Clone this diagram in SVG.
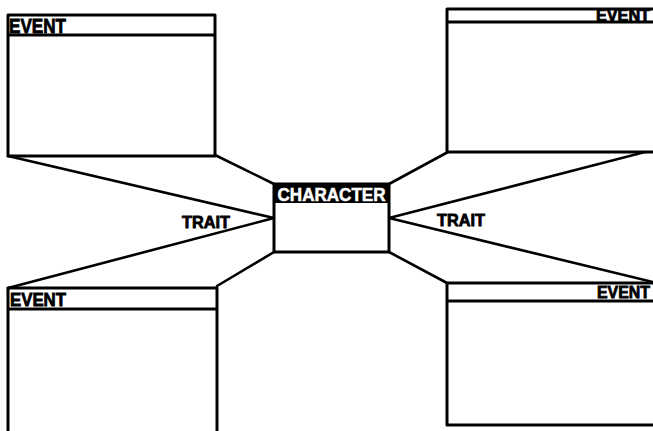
<svg xmlns="http://www.w3.org/2000/svg" width="653" height="431" viewBox="0 0 653 431">
<style>
.box{fill:#fff;stroke:#000;stroke-width:3;stroke-linejoin:round}
.hdr{fill:none;stroke:#000;stroke-width:3}
.lbl{font-family:"Liberation Sans",Arial,sans-serif;font-weight:bold;fill:#000;stroke:#000;stroke-width:0.8}
.con{stroke:#000;stroke-width:2.6;fill:none;stroke-linecap:round}
.wt{font-family:"Liberation Sans",Arial,sans-serif;font-weight:bold;fill:#fff;stroke:#fff;stroke-width:0.5}
</style>
<rect width="653" height="431" fill="#fff"/>
<g id="connectors">
<line class="con" x1="215" y1="155" x2="274" y2="184"/>
<line class="con" x1="8" y1="156" x2="274" y2="218"/>
<line class="con" x1="8" y1="288" x2="274" y2="218"/>
<line class="con" x1="217" y1="286" x2="274" y2="252"/>
<line class="con" x1="389" y1="184" x2="448" y2="152"/>
<line class="con" x1="389" y1="218" x2="653" y2="150"/>
<line class="con" x1="389" y1="218" x2="653" y2="282"/>
<line class="con" x1="389" y1="252" x2="447" y2="283"/>
</g>
<g id="event-top-left">
<rect class="box" x="8" y="15" width="207" height="141"/>
<line class="hdr" x1="8" y1="35" x2="215" y2="35"/>
<text class="lbl" x="9" y="33" font-size="20" textLength="57" lengthAdjust="spacingAndGlyphs">EVENT</text>
</g>
<g id="event-top-right">
<rect class="box" x="447" y="9" width="210" height="143"/>
<line class="hdr" x1="447" y1="22" x2="653" y2="22"/>
<text class="lbl" x="650" y="21" font-size="16" text-anchor="end" textLength="54" lengthAdjust="spacingAndGlyphs">EVENT</text>
</g>
<g id="event-bottom-left">
<rect class="box" x="8" y="288" width="209" height="150"/>
<line class="hdr" x1="8" y1="309" x2="217" y2="309"/>
<text class="lbl" x="10" y="306" font-size="19" textLength="56" lengthAdjust="spacingAndGlyphs">EVENT</text>
</g>
<g id="event-bottom-right">
<rect class="box" x="447" y="283" width="210" height="142"/>
<line class="hdr" x1="447" y1="301" x2="653" y2="301"/>
<text class="lbl" x="650" y="298" font-size="17" text-anchor="end" textLength="53" lengthAdjust="spacingAndGlyphs">EVENT</text>
</g>
<g id="character">
<rect class="box" x="274" y="184" width="115" height="68"/>
<rect x="274" y="184" width="115" height="19" fill="#000"/>
<text class="wt" x="331.5" y="200.5" font-size="18" text-anchor="middle" textLength="108" lengthAdjust="spacingAndGlyphs">CHARACTER</text>
</g>
<g id="trait-left">
<text class="lbl" x="182" y="228" font-size="17" textLength="48" lengthAdjust="spacingAndGlyphs">TRAIT</text>
</g>
<g id="trait-right">
<text class="lbl" x="437" y="226" font-size="17" textLength="48" lengthAdjust="spacingAndGlyphs">TRAIT</text>
</g>
</svg>
